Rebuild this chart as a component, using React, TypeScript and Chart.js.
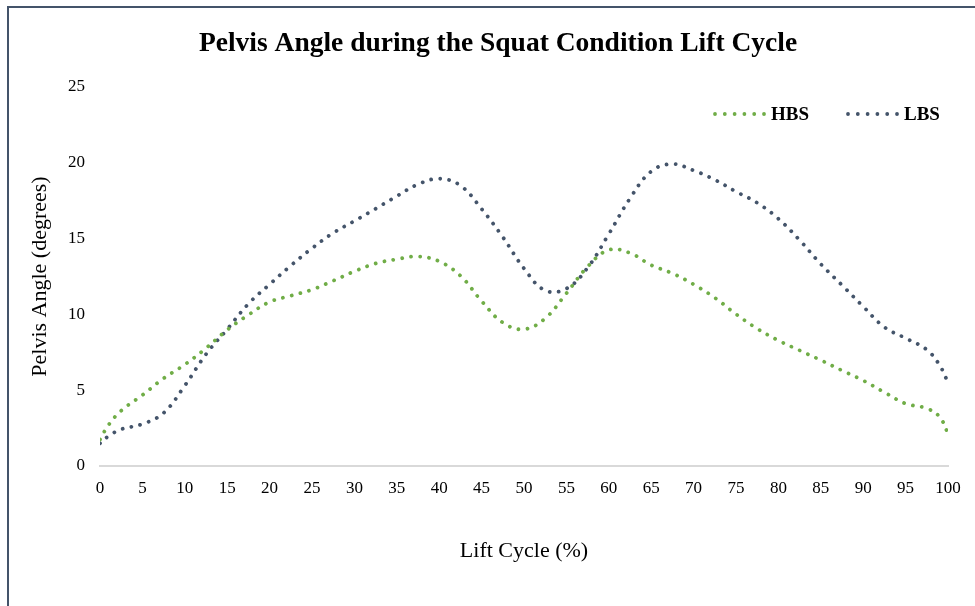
import React, { useEffect, useRef } from "react";
import { Chart, registerables } from "chart.js";

Chart.register(...registerables);

const TITLE = "Pelvis Angle during the Squat Condition Lift Cycle";
const X_TITLE = "Lift Cycle (%)";
const Y_TITLE = "Pelvis Angle (degrees)";
const SERIES_NAMES = ["HBS", "LBS"];

const liftCycle = [0, 1, 2.5, 5, 7.5, 10, 12.5, 15, 17.5, 20, 22.5, 25, 27.5, 30, 32.5, 35, 37.5, 40, 42.5, 45, 47.5, 50, 52.5, 55, 57.5, 60, 62.5, 65, 67.5, 70, 72.5, 75, 77.5, 80, 82.5, 85, 87.5, 90, 92.5, 95, 97.5, 99, 100];

const hbs = [1.75, 2.7, 3.65, 4.68, 5.78, 6.69, 7.77, 8.98, 9.97, 10.82, 11.23, 11.63, 12.22, 12.84, 13.36, 13.64, 13.82, 13.5, 12.55, 10.88, 9.46, 9.02, 9.74, 11.39, 13.15, 14.25, 14.05, 13.25, 12.71, 11.98, 11.1, 10.02, 9.06, 8.28, 7.63, 6.98, 6.3, 5.64, 4.86, 4.12, 3.8, 3.25, 2.15];

const lbs = [1.5, 1.97, 2.42, 2.77, 3.5, 5.3, 7.37, 9.02, 10.7, 11.98, 13.22, 14.36, 15.37, 16.16, 16.97, 17.8, 18.58, 18.95, 18.5, 16.96, 15.1, 13.03, 11.58, 11.7, 13.08, 15.3, 17.65, 19.43, 19.92, 19.5, 18.88, 18.1, 17.36, 16.31, 14.9, 13.32, 11.93, 10.52, 9.16, 8.43, 7.67, 6.66, 5.5];

const COLORS = ["#70AD47", "#44546A"];
const FONT = "'Liberation Serif', 'Times New Roman', serif";

const titleAndLegend = {
  id: "titleAndLegend",
  afterDraw(chart: any, _args: any, opts: any) {
    const ctx = chart.ctx;
    const right = chart.chartArea.right;
    ctx.save();
    // title
    ctx.fillStyle = "#000";
    ctx.font = `bold ${opts.titleSize}px ${FONT}`;
    ctx.textAlign = "center";
    ctx.textBaseline = "middle";
    ctx.fillText(opts.title, opts.titleX, opts.titleY);
    // legend
    chart.data.datasets.forEach((ds: any, i: number) => {
      const item = opts.items[i];
      const x1 = right - item.lineStart;
      const x2 = x1 + opts.lineLength;
      ctx.beginPath();
      ctx.strokeStyle = ds.borderColor;
      ctx.lineWidth = ds.borderWidth;
      ctx.lineCap = "round";
      ctx.setLineDash([0.01, opts.lineLength / 5 - 0.01]);
      ctx.moveTo(x1, opts.y);
      ctx.lineTo(x2 + 0.5, opts.y);
      ctx.stroke();
      ctx.setLineDash([]);
      ctx.fillStyle = "#000";
      ctx.font = `bold ${opts.fontSize}px ${FONT}`;
      ctx.textBaseline = "middle";
      ctx.textAlign = "left";
      ctx.fillText(ds.label, x2 + opts.gap, opts.y + 1);
    });
    ctx.restore();
  },
};

export default function App() {
  const ref = useRef<HTMLCanvasElement | null>(null);

  useEffect(() => {
    if (!ref.current) return;
    const mk = (vals: number[], i: number) => ({
      label: SERIES_NAMES[i],
      data: liftCycle.map((x, k) => ({ x, y: vals[k] })),
      borderColor: COLORS[i],
      backgroundColor: COLORS[i],
      borderWidth: 3.8,
      borderDash: [0.01, 9],
      borderCapStyle: "round" as const,
      pointRadius: 0,
      tension: 0.4,
      fill: false,
    });
    const chart = new Chart(ref.current, {
      type: "line",
      data: { datasets: [mk(hbs, 0), mk(lbs, 1)] },
      plugins: [titleAndLegend],
      options: {
        animation: false,
        responsive: false,
        maintainAspectRatio: false,
        layout: { padding: { left: 0, right: 27, top: 87, bottom: 0 } },
        plugins: {
          legend: { display: false },
          tooltip: { enabled: false },
          title: { display: false },
          titleAndLegend: {
            title: TITLE,
            titleSize: 27.5,
            titleX: 498,
            titleY: 44,
            y: 114,
            lineLength: 49,
            gap: 7,
            fontSize: 19,
            items: [{ lineStart: 233 }, { lineStart: 100 }],
          },
        } as any,
        scales: {
          x: {
            type: "linear",
            min: 0,
            max: 100,
            grid: { display: false },
            border: { display: true, color: "#D9D9D9", width: 2 },
            ticks: {
              stepSize: 5,
              color: "#000",
              padding: 4,
              maxRotation: 0,
              autoSkip: false,
              font: { family: FONT, size: 17 },
            },
            title: {
              display: true,
              text: X_TITLE,
              color: "#000",
              font: { family: FONT, size: 22 },
              padding: { top: 0, bottom: 42 },
            },
            afterFit: (s: any) => {
              s.height = 140;
            },
          },
          y: {
            min: 0,
            max: 25,
            grid: { display: false },
            border: { display: false },
            ticks: {
              stepSize: 5,
              color: "#000",
              padding: 7,
              font: { family: FONT, size: 17 },
            },
            title: {
              display: true,
              text: Y_TITLE,
              color: "#000",
              font: { family: FONT, size: 22 },
              padding: { top: 27.5, bottom: 0 },
            },
            afterFit: (s: any) => {
              s.width = 100;
            },
          },
        },
      } as any,
    });
    return () => chart.destroy();
  }, []);

  return (
    <div style={{ position: "fixed", left: 0, top: 0, width: 975, height: 606, background: "#fff", overflow: "hidden" }}>
      <canvas ref={ref} width={975} height={606} style={{ display: "block", width: 975, height: 606 }} />
      <div
        style={{
          position: "absolute",
          left: 7,
          top: 6,
          width: 1000,
          height: 700,
          borderLeft: "2px solid #44546A",
          borderTop: "2px solid #44546A",
          pointerEvents: "none",
        }}
      />
    </div>
  );
}
